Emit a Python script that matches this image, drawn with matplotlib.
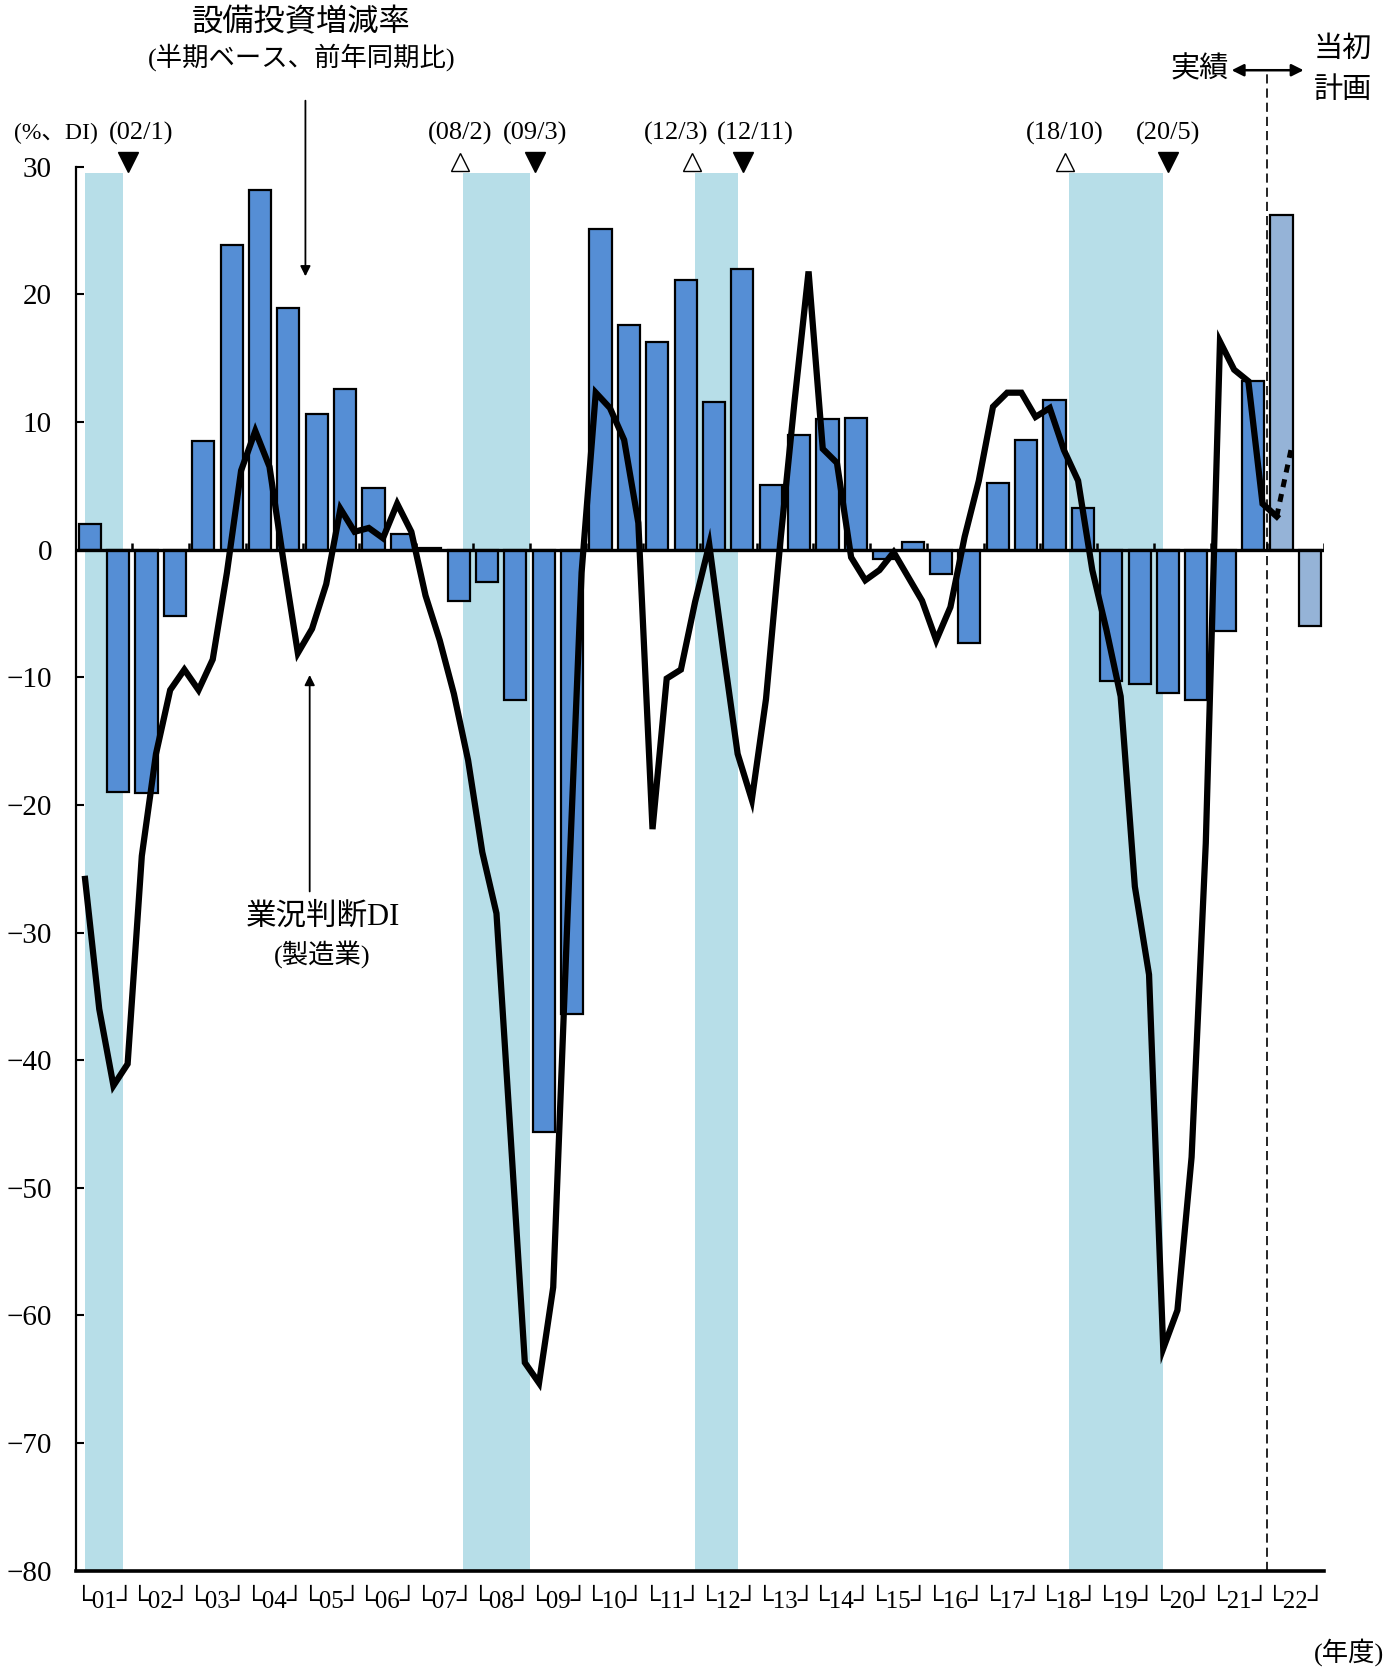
import matplotlib
matplotlib.use("Agg")
import matplotlib.pyplot as plt
import numpy as np

FONT = ['Liberation Serif', 'Noto Sans CJK JP', 'DejaVu Sans']
plt.rcParams['font.family'] = FONT
plt.rcParams['axes.unicode_minus'] = True

# ---------------- data ----------------
fiscal_years = ['01', '02', '03', '04', '05', '06', '07', '08', '09', '10', '11',
                '12', '13', '14', '15', '16', '17', '18', '19', '20', '21', '22']

# capex growth, half-year basis, y/y % (H1, H2 for each fiscal year); FY22 = initial plan
capex_growth = [2.0, -19.0, -19.1, -5.2, 8.5, 23.9, 28.2, 18.9, 10.6, 12.6,
                4.8, 1.2, 0.1, -4.0, -2.5, -11.8, -45.6, -36.4, 25.1, 17.6,
                16.3, 21.1, 11.6, 22.0, 5.1, 9.0, 10.2, 10.3, -0.7, 0.6,
                -1.9, -7.3, 5.2, 8.6, 11.7, 3.3, -10.3, -10.5, -11.2, -11.8,
                -6.4, 13.2, 26.2, -6.0]
n_plan_halves = 2

# business conditions DI (manufacturing), quarterly surveys from Jun-2001
di_values = [-25.8, -36.0, -42.0, -40.3, -24.0, -16.0, -11.0, -9.4, -11.0, -8.6,
             -1.8, 6.2, 9.3, 6.5, -1.0, -8.1, -6.2, -2.7, 3.2, 1.4,
             1.7, 0.9, 3.6, 1.4, -3.6, -7.1, -11.3, -16.5, -23.7, -28.5,
             -46.0, -63.7, -65.3, -57.8, -29.0, -1.8, 12.3, 11.1, 8.6, 2.1,
             -21.9, -10.1, -9.4, -4.1, 0.4, -8.0, -16.0, -19.6, -11.7, 0.5,
             11.5, 21.8, 7.9, 6.8, -0.6, -2.4, -1.6, -0.2, -2.1, -4.0,
             -7.1, -4.5, 1.0, 5.4, 11.2, 12.3, 12.3, 10.4, 11.1, 7.8,
             5.4, -1.6, -6.3, -11.5, -26.4, -33.3, -62.6, -59.6, -47.6, -23.0,
             16.3, 14.1, 13.2, 3.6]
di_latest = 2.6
di_forecast = 7.8

# recession periods (peak, trough) as "yy/m"
recessions = [("00/11", "02/1"), ("08/2", "09/3"), ("12/3", "12/11"), ("18/10", "20/5")]

# ---------------- helpers ----------------
def month_index(s):
    yy, m = s.split('/')
    return (2000 + int(yy)) * 12 + int(m) - (2001 * 12 + 4)

def to_x(midx):            # half-year units, 0 = start of FY01
    return midx / 6.0

n_halves = len(capex_growth)
half_pos = np.arange(n_halves) + 0.5
di_x = np.array([to_x(2 + 3 * k) for k in range(len(di_values))])

# ---------------- figure ----------------
fig = plt.figure(figsize=(13.98, 16.68), dpi=100)
ax = fig.add_axes([0.05408, 0.0584, 0.89299, 0.8416])
ax.set_xlim(0, n_halves)
ax.set_ylim(-80, 30)

SHADE = '#B7DEE8'
BAR = '#558ED5'
PLAN = '#95B3D7'

# recession shading
marks = []
for pk, tr in recessions:
    x0 = max(to_x(month_index(pk)), di_x[0])
    x1 = to_x(month_index(tr) + 1)
    ax.fill_between([x0, x1], -80, 29.55, color=SHADE, lw=0, zorder=1)
    if to_x(month_index(pk)) >= 0:
        marks.append((x0 - 0.12, 'peak', pk))
    marks.append((x1 + 0.18, 'trough', tr))

# bars
colors = [BAR] * (n_halves - n_plan_halves) + [PLAN] * n_plan_halves
ax.bar(half_pos, capex_growth, width=0.78, color=colors, edgecolor='black',
       linewidth=1.6, zorder=3)

# zero line with year-boundary ticks
ax.axhline(0, color='black', lw=2.4, zorder=4)
ax.vlines(np.arange(2, n_halves + 1, 2), 0, 0.5, color='black', lw=1.8, zorder=4)

# DI line
ax.plot(np.append(di_x, to_x(2 + 3 * len(di_values))),
        di_values + [di_latest], color='black', lw=4.5,
        solid_joinstyle='miter', zorder=6)
ax.plot([to_x(2 + 3 * len(di_values)), to_x(2 + 3 * (len(di_values) + 1))],
        [di_latest, di_forecast], color='black', lw=3.6, dashes=(1.6, 1.4), zorder=6)

# actual / plan separator
sep_x = n_halves - n_plan_halves
ax.vlines(sep_x, -80, 37.5, color='black', lw=1.2, linestyles=(0, (5.5, 3)),
          clip_on=False, zorder=7)

# peak / trough markers & labels
xs = [m[0] for m in marks]
for i, (x, kind, lab) in enumerate(marks):
    if kind == 'peak':
        ax.plot(x, 30.4, marker='^', ms=13, mfc='white', mec='black', mew=1.0,
                clip_on=False, zorder=8)
    else:
        ax.plot(x, 30.4, marker='v', ms=14, mfc='black', mec='black',
                clip_on=False, zorder=8)
    dx = 0.0
    if i + 1 < len(marks) and xs[i + 1] - x < 2.2:
        dx = -0.55
    if i > 0 and x - xs[i - 1] < 2.2:
        dx = 0.45
    if x < 3:            # keep clear of the unit label at the top-left
        dx = 0.45
    ax.text(x + dx, 32.6, '(' + lab + ')', ha='center', va='center',
            fontsize=19, clip_on=False)

# axes styling
for s in ['top', 'right']:
    ax.spines[s].set_visible(False)
ax.spines['left'].set_linewidth(1.6)
ax.spines['bottom'].set_linewidth(2.6)
ax.spines['left'].set_zorder(9)
ax.spines['bottom'].set_zorder(9)
ax.set_yticks(np.arange(-80, 31, 10))
ax.tick_params(axis='y', direction='in', length=6, width=1.5, pad=17, labelsize=21)
ax.set_xticks(np.arange(1, n_halves, 2))
ax.set_xticklabels(['\u2514' + y + '\u2518' for y in fiscal_years], fontsize=18)
ax.tick_params(axis='x', length=0, pad=14)

# annotations
fig.text(0.2153, 0.986, '設備投資増減率', ha='center', va='center', fontsize=22.5)
fig.text(0.2160, 0.966, '(半期ベース、前年同期比)', ha='center', va='center', fontsize=19)
ax.annotate('', xy=(8.1, 21.2), xytext=(8.1, 35.4),
            arrowprops=dict(arrowstyle='-|>', color='black', lw=1.3,
                            mutation_scale=15), annotation_clip=False)
fig.text(0.2313, 0.4502, '業況判断DI', ha='center', va='center', fontsize=22)
fig.text(0.2306, 0.4278, '(製造業)', ha='center', va='center', fontsize=19)
ax.annotate('', xy=(8.25, -9.6), xytext=(8.25, -27.0),
            arrowprops=dict(arrowstyle='-|>', color='black', lw=1.3,
                            mutation_scale=15), annotation_clip=False)

fig.text(0.0100, 0.920, '(%、DI)', ha='left', va='center', fontsize=17)
fig.text(0.8584, 0.9585, '実績', ha='center', va='center', fontsize=21)
fig.text(0.9605, 0.970, '当初', ha='center', va='center', fontsize=21)
fig.text(0.9605, 0.9458, '計画', ha='center', va='center', fontsize=21)
fig.patches.append(matplotlib.patches.FancyArrowPatch(
    (0.8790, 0.9579), (0.9345, 0.9579), transform=fig.transFigure,
    arrowstyle='<|-|>', mutation_scale=18, color='black', lw=1.8))
fig.text(0.965, 0.0094, '(年度)', ha='center', va='center', fontsize=19)

fig.savefig('out.png', dpi=100)
